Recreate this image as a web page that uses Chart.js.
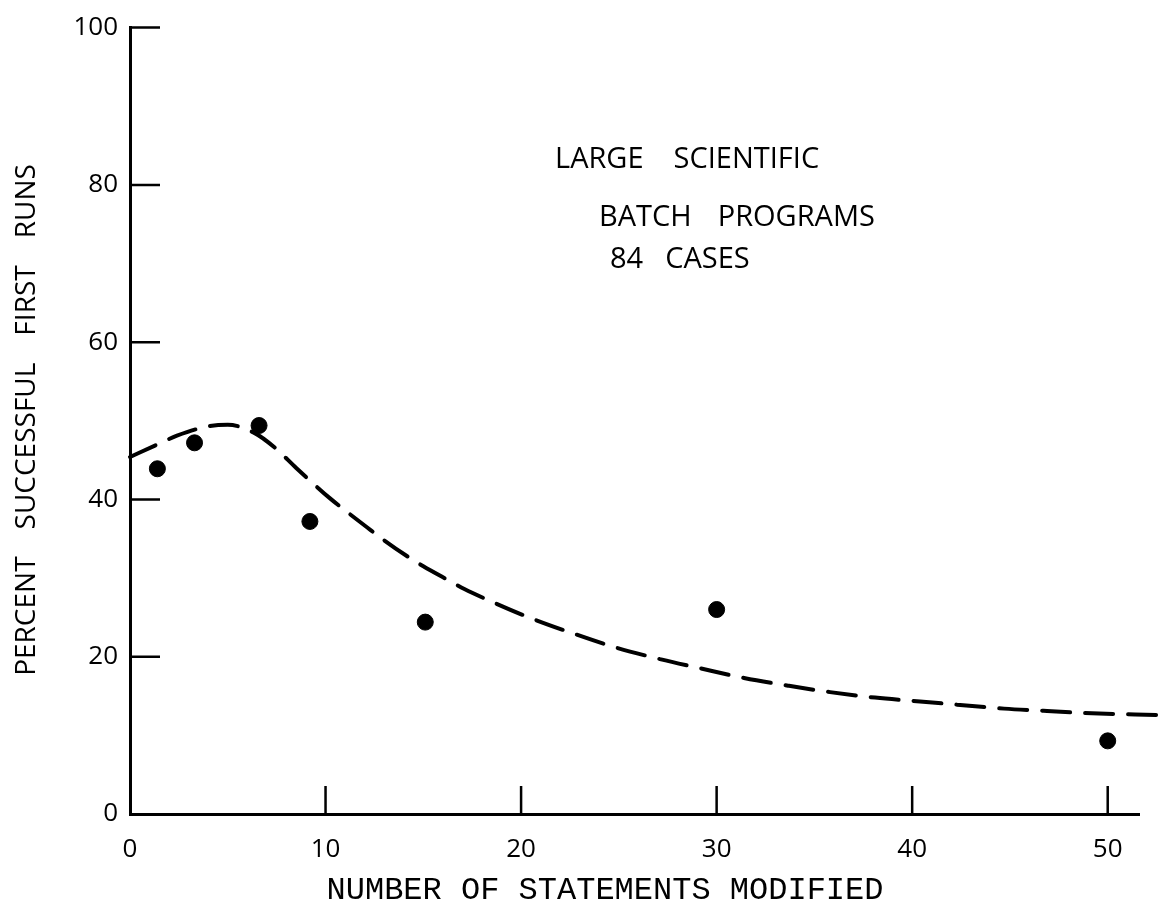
<!DOCTYPE html>
<html>
<head>
<meta charset="utf-8">
<script src="https://cdn.jsdelivr.net/npm/chart.js@4"></script>
<style>
  html, body { margin: 0; padding: 0; background: #fff; }
  #wrap { width: 1159px; height: 922px; position: relative; }
</style>
</head>
<body>
<div id="wrap"><canvas id="c"></canvas></div>
<script>
// ---- data ----
const xTickValues = [0, 10, 20, 30, 40, 50];
const yTickValues = [0, 20, 40, 60, 80, 100];
const xTitle = 'NUMBER OF STATEMENTS MODIFIED';
const yTitleWords = ['PERCENT', 'SUCCESSFUL', 'FIRST', 'RUNS'];
const noteLines = [['LARGE', 'SCIENTIFIC'], ['BATCH', 'PROGRAMS'], ['84', 'CASES']];

// observed cases (dots)
const obsX = [1.4, 3.3, 6.6, 9.2, 15.1, 30.0, 50.0];
const obsY = [43.9, 47.2, 49.4, 37.2, 24.4, 26.0, 9.3];

// fitted trend (dashed curve)
const fitX = [0, 1.5, 2.4, 4.0, 5.0, 6.4, 7.4, 8.5, 9.2, 10.2, 10.9, 12.1, 13.0, 14.1, 15.0, 16.3, 17.1, 18.5, 20.3, 22.5, 24.8, 27.1, 29.2, 31.4, 33.7, 35.8, 38.1, 40.4, 42.3, 44.7, 46.9, 49.2, 52.5];
const fitY = [45.4, 47.1, 48.1, 49.3, 49.5, 48.4, 46.6, 44.0, 42.4, 40.2, 38.8, 36.5, 34.8, 32.9, 31.5, 29.7, 28.6, 27.0, 25.1, 23.1, 21.2, 19.7, 18.5, 17.3, 16.3, 15.5, 14.8, 14.3, 13.9, 13.4, 13.1, 12.8, 12.6];

const X_MAX = 51.6;
const Y_MAX = 100;

const labelFont = '"Open Sans", "DejaVu Sans", sans-serif';

function drawWords(ctx, words, x, y, gap) {
  let cx = x;
  words.forEach(w => {
    ctx.fillText(w, cx, y);
    cx += ctx.measureText(w).width + gap;
  });
}

const innerTicks = {
  id: 'innerTicks',
  afterDatasetsDraw(chart) {
    const {ctx, chartArea: a, scales: {x, y}} = chart;
    ctx.save();
    ctx.strokeStyle = '#000';
    ctx.lineWidth = 2.5;
    ctx.beginPath();
    xTickValues.forEach(v => {
      if (v === 0) return;
      const px = x.getPixelForValue(v);
      ctx.moveTo(px, a.bottom);
      ctx.lineTo(px, a.bottom - 28);
    });
    yTickValues.forEach(v => {
      if (v === 0) return;
      const py = y.getPixelForValue(v);
      ctx.moveTo(a.left, py);
      ctx.lineTo(a.left + 30, py);
    });
    ctx.stroke();

    // x-axis title (typewriter)
    ctx.fillStyle = '#000';
    ctx.font = '32px "Liberation Mono", "Courier New", monospace';
    ctx.textAlign = 'center';
    ctx.textBaseline = 'middle';
    ctx.fillText(xTitle, 605, 891);

    // y-axis title (rotated, reads bottom to top)
    ctx.font = '28px ' + labelFont;
    ctx.textAlign = 'left';
    ctx.textBaseline = 'alphabetic';
    const gap = 27;
    const widths = yTitleWords.map(w => ctx.measureText(w).width);
    const total = widths.reduce((s, w) => s + w, 0) + gap * (yTitleWords.length - 1);
    ctx.translate(35, 420);
    ctx.rotate(-Math.PI / 2);
    drawWords(ctx, yTitleWords, -total / 2, 0, gap);
    ctx.setTransform(1, 0, 0, 1, 0, 0);

    // annotation
    ctx.font = '29px ' + labelFont;
    drawWords(ctx, noteLines[0], 555, 168, 30);
    drawWords(ctx, noteLines[1], 599, 226, 26);
    drawWords(ctx, noteLines[2], 610, 268, 22);
    ctx.restore();
  }
};

new Chart(document.getElementById('c'), {
  type: 'scatter',
  data: {
    datasets: [
      {
        type: 'line',
        data: fitX.map((v, i) => ({x: v, y: fitY[i]})),
        borderColor: '#000',
        borderWidth: 4,
        borderDash: [28, 15],
        borderCapStyle: 'round',
        pointRadius: 0,
        fill: false,
        cubicInterpolationMode: 'monotone',
        clip: false
      },
      {
        data: obsX.map((v, i) => ({x: v, y: obsY[i]})),
        backgroundColor: '#000',
        borderColor: '#000',
        pointRadius: 8,
        pointHoverRadius: 8
      }
    ]
  },
  options: {
    responsive: true,
    maintainAspectRatio: false,
    animation: false,
    events: [],
    layout: { padding: { top: 23, right: 20, bottom: 0, left: 0 } },
    plugins: { legend: { display: false }, tooltip: { enabled: false } },
    scales: {
      x: {
        type: 'linear',
        min: 0,
        max: X_MAX,
        afterBuildTicks: s => { s.ticks = xTickValues.map(v => ({value: v})); },
        afterFit: s => { s.height = 108; },
        grid: { display: false, drawTicks: false },
        border: { display: true, color: '#000', width: 3 },
        ticks: { color: '#000', font: { family: labelFont, size: 26 }, padding: 20, maxRotation: 0 }
      },
      y: {
        type: 'linear',
        min: 0,
        max: Y_MAX,
        afterBuildTicks: s => { s.ticks = yTickValues.map(v => ({value: v})); },
        afterFit: s => { s.width = 130; },
        grid: { display: false, drawTicks: false },
        border: { display: true, color: '#000', width: 3 },
        ticks: { color: '#000', font: { family: labelFont, size: 26 }, padding: 12 }
      }
    }
  },
  plugins: [innerTicks]
});
</script>
</body>
</html>
